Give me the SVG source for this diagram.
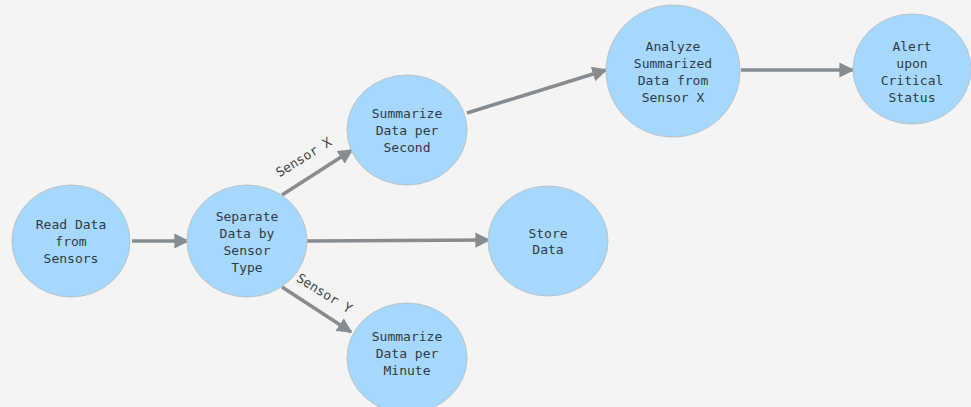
<svg xmlns="http://www.w3.org/2000/svg" width="971" height="407" viewBox="0 0 971 407">
<defs>
<marker id="ah" viewBox="0 0 10 10" refX="9" refY="5" markerWidth="4.2" markerHeight="4.2" orient="auto" markerUnits="strokeWidth">
<path d="M0,0 L10,5 L0,10 Z" fill="#878c91"/>
</marker>
<style>
.node ellipse{fill:#a6d8fd;stroke:#b8c4cc;stroke-width:1}
.node text,.lbl{font-family:"DejaVu Sans Mono","Liberation Mono",monospace;font-size:13px;fill:#2f3b45;text-anchor:middle}
.lbl{fill:#444}
.edge{stroke:#878c91;stroke-width:3.6;fill:none;marker-end:url(#ah)}
</style>
</defs>
<rect width="971" height="407" fill="#f4f4f4"/>
<g id="connectors">
<line class="edge" x1="132" y1="241" x2="188" y2="241"/>
<line class="edge" x1="282" y1="195" x2="352" y2="150"/>
<line class="edge" x1="307" y1="241" x2="489" y2="240"/>
<line class="edge" x1="282" y1="287" x2="351" y2="332"/>
<line class="edge" x1="467" y1="113" x2="606" y2="70"/>
<line class="edge" x1="741" y1="70" x2="853" y2="70"/>
<text class="lbl" transform="translate(306,161) rotate(-32)">Sensor X</text>
<text class="lbl" transform="translate(322,297) rotate(32)">Sensor Y</text>
</g>
<g id="n1" class="node"><ellipse cx="71" cy="241" rx="59" ry="56"/>
<text x="71" y="229">Read Data</text><text x="71" y="246">from</text><text x="71" y="263">Sensors</text></g>
<g id="n2" class="node"><ellipse cx="247" cy="241" rx="60" ry="56"/>
<text x="247" y="221">Separate</text><text x="247" y="238">Data by</text><text x="247" y="255">Sensor</text><text x="247" y="272">Type</text></g>
<g id="n3" class="node"><ellipse cx="407" cy="130" rx="60" ry="55"/>
<text x="407" y="118">Summarize</text><text x="407" y="135">Data per</text><text x="407" y="152">Second</text></g>
<g id="n4" class="node"><ellipse cx="548" cy="241" rx="60" ry="55"/>
<text x="548" y="238">Store</text><text x="548" y="254">Data</text></g>
<g id="n5" class="node"><ellipse cx="407" cy="358" rx="60" ry="55"/>
<text x="407" y="341">Summarize</text><text x="407" y="358">Data per</text><text x="407" y="375">Minute</text></g>
<g id="n6" class="node"><ellipse cx="673" cy="71" rx="67" ry="66"/>
<text x="673" y="51">Analyze</text><text x="673" y="68">Summarized</text><text x="673" y="85">Data from</text><text x="673" y="102">Sensor X</text></g>
<g id="n7" class="node"><ellipse cx="912" cy="69" rx="59" ry="55"/>
<text x="912" y="51">Alert</text><text x="912" y="68">upon</text><text x="912" y="85">Critical</text><text x="912" y="102">Status</text></g>
</svg>
